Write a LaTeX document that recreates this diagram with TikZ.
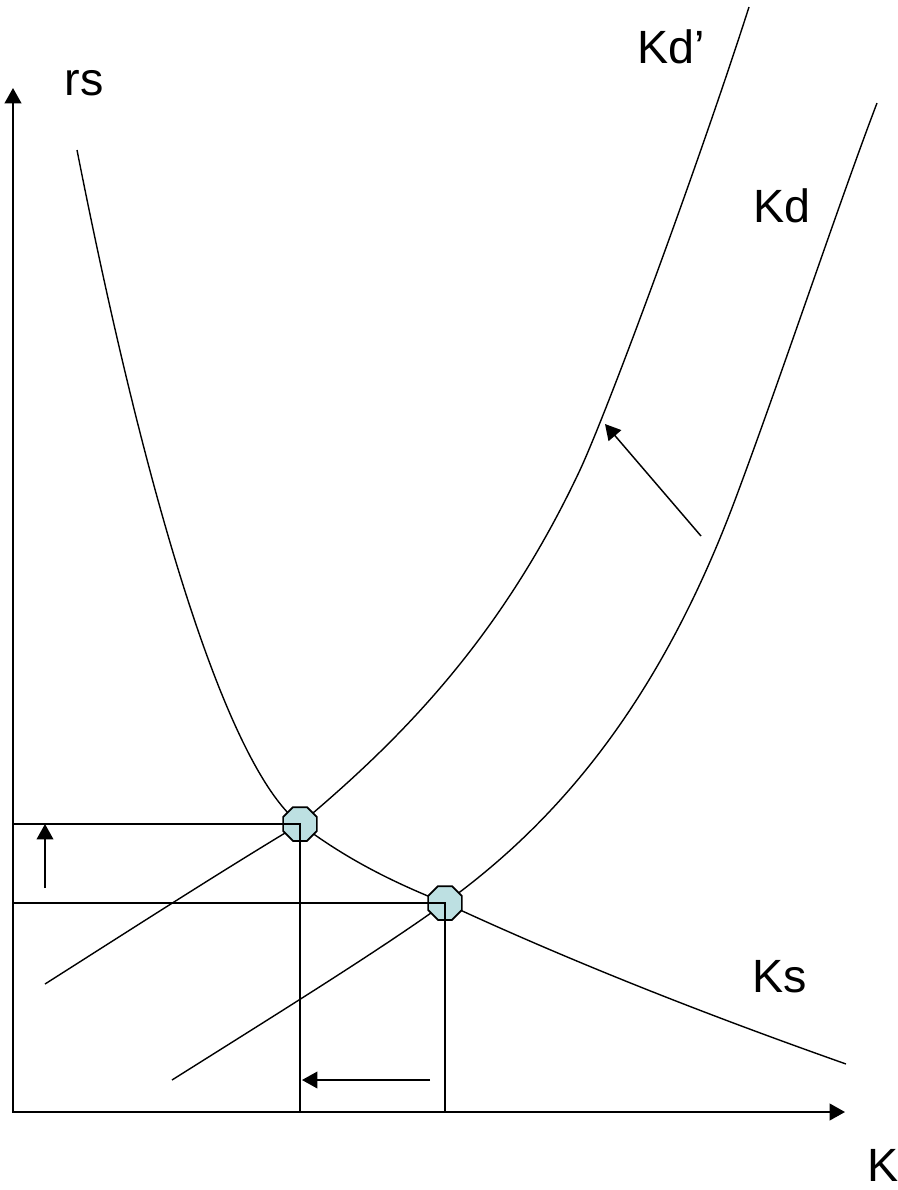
\documentclass[tikz,border=0pt]{standalone}
\usepackage{fontspec}
\setmainfont{Liberation Sans}
\usetikzlibrary{shapes.geometric,arrows.meta}
\definecolor{octfill}{RGB}{189,224,226}
\begin{document}
\begin{tikzpicture}[x=0.75pt,y=-0.75pt,
  curve/.style={line width=1.05pt},
  axis/.style={line width=1.45pt},
  guide/.style={line width=1.45pt},
  tip/.style={-{Triangle[length=11.5pt,width=12.5pt]}},
  arr/.style={line width=1.1pt,tip},
  eq/.style={regular polygon,regular polygon sides=8,minimum size=27.4pt,inner sep=0pt,draw,line width=1.3pt,fill=octfill},
  lbl/.style={font=\fontsize{35}{42}\selectfont,inner sep=0pt}]
\useasboundingbox (0,0) rectangle (898,1190);
% key coordinates
\coordinate (O) at (13,1112);
\coordinate (ytip) at (13,88);
\coordinate (xtip) at (845,1112);
\coordinate (e1) at (300,824);
\coordinate (e2) at (445,903);
\coordinate (ks0) at (77,150);
\coordinate (ks1) at (846,1064);
\coordinate (kdp0) at (45,984);
\coordinate (kdpm) at (580,470);
\coordinate (kdp1) at (749,7);
\coordinate (kd0) at (172,1080);
\coordinate (kdm) at (735,500);
\coordinate (kd1) at (877,103);
% curves
\draw[curve] (ks0) .. controls (150,520) and (230,770) .. (e1)
  .. controls (350,862) and (400,885) .. (e2)
  .. controls (600,975) and (750,1030) .. (ks1);
\draw[curve] (kdp0) .. controls (130,930) and (220,872) .. (e1)
  .. controls (400,740) and (500,640) .. (kdpm)
  .. controls (610,405) and (700,160) .. (kdp1);
\draw[curve] (kd0) .. controls (280,1012) and (380,950) .. (e2)
  .. controls (560,820) and (660,700) .. (kdm)
  .. controls (780,380) and (840,200) .. (kd1);
% axes
\draw[axis,{Triangle[length=11.5pt,width=12.5pt]}-{Triangle[length=11.5pt,width=12.5pt]}] (ytip) -- (O) -- (xtip);
% equilibrium markers
\node[eq] (p1) at (e1) {};
\node[eq] (p2) at (e2) {};
% guide lines
\draw[guide] (O |- e1) -- (e1) -- (e1 |- O);
\draw[guide] (O |- e2) -- (e2) -- (e2 |- O);
% shift arrows
\coordinate (ua0) at (45,888);
\coordinate (ua1) at (45,824);
\draw[arr] (ua0) -- (ua1);
\coordinate (la0) at (430,1080);
\coordinate (la1) at (302,1080);
\draw[arr] (la0) -- (la1);
\coordinate (da0) at (701,536);
\coordinate (da1) at (605,424);
\draw[arr] (da0) -- (da1);
% labels
\node[lbl] (rs) at (84,83) {rs};
\node[lbl] (kdp) at (671,47) {Kd’};
\node[lbl] (kd) at (782,206) {Kd};
\node[lbl] (ks) at (780,977) {Ks};
\node[lbl] (k) at (883,1165) {K};
\end{tikzpicture}
\end{document}
